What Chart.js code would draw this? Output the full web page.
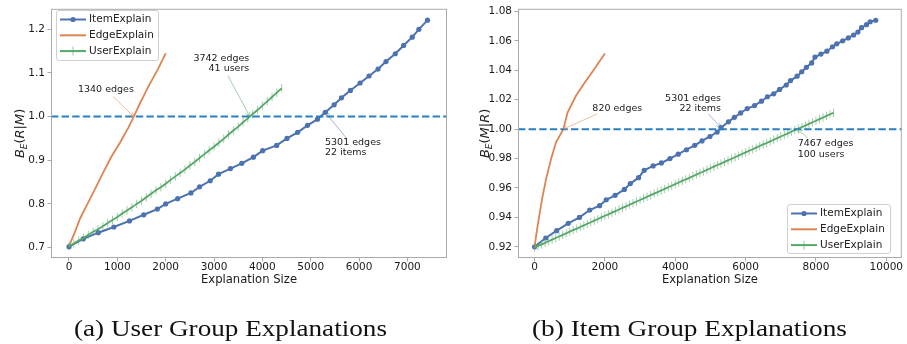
<!DOCTYPE html>
<html>
<head>
<meta charset="utf-8">
<script src="https://cdn.jsdelivr.net/npm/chart.js@4.4.1/dist/chart.umd.min.js"></script>
<style>
  body { margin: 0; background: #fff; width: 907px; height: 344px; overflow: hidden; position: relative; }
  canvas { position: absolute; top: 0; }
  #chartA { left: 0; }
  #chartB { left: 453px; }
  #captions { left: 0; }
</style>
</head>
<body>
<canvas id="chartA" width="453" height="292"></canvas>
<canvas id="chartB" width="454" height="292"></canvas>
<canvas id="captions" width="907" height="344" style="pointer-events:none"></canvas>
<script>
const BLUE = '#4c72b0', ORANGE = '#dd8452', GREEN = '#55a868', REF_COLOR = '#2a80c2';
const FONT = '"DejaVu Sans", sans-serif';
const seriesNames = ['ItemExplain', 'EdgeExplain', 'UserExplain'];
const refValue = 1.0;

// (a) user group explanations
const itemXA = [0,296,605,928,1251,1546,1828,2000,2247,2522,2701,2921,3093,3340,3574,3814,4007,4296,4509,4729,4935,5141,5301,5485,5636,5821,6021,6206,6392,6557,6749,6921,7100,7237,7416];
const itemYA = [0.702,0.720,0.734,0.747,0.761,0.775,0.788,0.800,0.812,0.825,0.839,0.853,0.868,0.881,0.893,0.907,0.922,0.934,0.950,0.964,0.980,0.994,1.010,1.027,1.043,1.060,1.077,1.093,1.109,1.126,1.144,1.163,1.182,1.200,1.221];
const edgeXA = [0,124,227,365,537,709,882,1054,1226,1340,1467,1639,1846,2000];
const edgeYA = [0.703,0.736,0.766,0.796,0.834,0.872,0.909,0.940,0.974,1.000,1.030,1.068,1.110,1.145];
const userXA = [0,100,200,300,400,500,600,700,800,900,1000,1100,1200,1300,1400,1500,1600,1700,1800,1900,2000,2100,2200,2300,2400,2500,2600,2700,2800,2900,3000,3100,3200,3300,3400,3500,3600,3700,3800,3900,4000,4100,4200,4300,4400];
const userYA = [0.703,0.709,0.716,0.722,0.729,0.736,0.742,0.749,0.756,0.763,0.770,0.778,0.785,0.792,0.800,0.807,0.815,0.823,0.831,0.838,0.846,0.855,0.863,0.871,0.879,0.888,0.896,0.905,0.914,0.923,0.931,0.940,0.949,0.959,0.968,0.977,0.987,0.996,1.006,1.015,1.025,1.035,1.045,1.055,1.065];
const xTicksA = [0,1000,2000,3000,4000,5000,6000,7000];
const yTicksA = [0.7,0.8,0.9,1.0,1.1,1.2];

// (b) item group explanations
const itemXB = [0,319,629,958,1277,1568,1850,2038,2291,2554,2723,2958,3117,3371,3606,3850,4085,4319,4554,4761,4986,5192,5301,5512,5681,5859,6047,6254,6451,6620,6798,6967,7155,7277,7465,7596,7728,7878,7972,8141,8310,8470,8592,8761,8920,9070,9192,9296,9437,9540,9700];
const itemYB = [0.920,0.926,0.931,0.936,0.940,0.945,0.948,0.952,0.955,0.959,0.963,0.967,0.972,0.975,0.977,0.980,0.983,0.986,0.989,0.992,0.995,0.998,1.001,1.005,1.008,1.011,1.014,1.016,1.019,1.022,1.024,1.027,1.030,1.033,1.036,1.039,1.042,1.045,1.049,1.051,1.053,1.056,1.058,1.060,1.062,1.064,1.066,1.069,1.071,1.073,1.074];
const edgeXB = [0,47,122,216,329,470,610,820,939,1174,1390,1690,2000];
const edgeYB = [0.9195,0.9279,0.9392,0.9527,0.9662,0.9797,0.9910,1.0000,1.0113,1.0225,1.0304,1.0406,1.0514];
const userXB = [0,100,200,300,400,500,600,700,800,900,1000,1100,1200,1300,1400,1500,1600,1700,1800,1900,2000,2100,2200,2300,2400,2500,2600,2700,2800,2900,3000,3100,3200,3300,3400,3500,3600,3700,3800,3900,4000,4100,4200,4300,4400,4500,4600,4700,4800,4900,5000,5100,5200,5300,5400,5500,5600,5700,5800,5900,6000,6100,6200,6300,6400,6500,6600,6700,6800,6900,7000,7100,7200,7300,7400,7500,7600,7700,7800,7900,8000,8100,8200,8300,8400,8500];
const userYB = [0.9195,0.9206,0.9217,0.9227,0.9238,0.9249,0.9260,0.9270,0.9281,0.9292,0.9303,0.9314,0.9324,0.9335,0.9346,0.9357,0.9367,0.9378,0.9389,0.9400,0.9411,0.9421,0.9432,0.9443,0.9454,0.9465,0.9475,0.9486,0.9497,0.9508,0.9518,0.9529,0.9540,0.9551,0.9562,0.9572,0.9583,0.9594,0.9605,0.9615,0.9626,0.9637,0.9648,0.9659,0.9669,0.9680,0.9691,0.9702,0.9712,0.9723,0.9734,0.9745,0.9756,0.9766,0.9777,0.9788,0.9799,0.9809,0.9820,0.9831,0.9842,0.9853,0.9863,0.9874,0.9885,0.9896,0.9906,0.9917,0.9928,0.9939,0.9950,0.9960,0.9971,0.9982,0.9993,1.0004,1.0014,1.0025,1.0036,1.0047,1.0057,1.0068,1.0079,1.0090,1.0101,1.0111];
const xTicksB = [0,2000,4000,6000,8000,10000];
const yTicksB = [0.92,0.94,0.96,0.98,1.00,1.02,1.04,1.06,1.08];

function zip(xs, ys) { return xs.map((x, i) => ({ x: x, y: ys[i] })); }

function arrow(ctx, x1, y1, x2, y2, color) {
  ctx.save();
  ctx.strokeStyle = color;
  ctx.globalAlpha = 0.6;
  ctx.lineWidth = 0.9;
  ctx.beginPath(); ctx.moveTo(x1, y1); ctx.lineTo(x2, y2); ctx.stroke();
  const a = Math.atan2(y2 - y1, x2 - x1), L = 5;
  ctx.beginPath();
  ctx.moveTo(x2 - L * Math.cos(a - 0.45), y2 - L * Math.sin(a - 0.45));
  ctx.lineTo(x2, y2);
  ctx.lineTo(x2 - L * Math.cos(a + 0.45), y2 - L * Math.sin(a + 0.45));
  ctx.stroke();
  ctx.restore();
}

const decorPlugin = {
  id: 'decor',
  afterDatasetsDraw(chart, args, opts) {
    const ctx = chart.ctx, a = chart.chartArea;
    const xs = chart.scales.x, ys = chart.scales.y;
    // reference line
    const yr = ys.getPixelForValue(refValue);
    ctx.save();
    ctx.strokeStyle = REF_COLOR; ctx.lineWidth = 2; ctx.setLineDash([7.4, 3.2]);
    ctx.beginPath(); ctx.moveTo(a.left, yr); ctx.lineTo(a.right, yr); ctx.stroke();
    ctx.restore();
    // annotations
    ctx.save();
    ctx.font = '9.5px ' + FONT; ctx.fillStyle = '#222'; ctx.textBaseline = 'middle';
    opts.notes.forEach(n => {
      arrow(ctx, xs.getPixelForValue(n.from[0]), ys.getPixelForValue(n.from[1]),
        xs.getPixelForValue(n.to[0]), ys.getPixelForValue(n.to[1]), n.color);
      ctx.textAlign = n.align;
      const tx = xs.getPixelForValue(n.at[0]), ty = ys.getPixelForValue(n.at[1]);
      const lh = 10.6;
      n.lines.forEach((t, i) => ctx.fillText(t, tx, ty - (n.lines.length - 1) * lh / 2 + i * lh));
    });
    ctx.restore();
  },
  afterDraw(chart, args, opts) {
    const ctx = chart.ctx, a = chart.chartArea;
    // frame
    ctx.save();
    ctx.strokeStyle = '#aaaaaa'; ctx.lineWidth = 1;
    ctx.strokeRect(a.left + 0.5, a.top + 0.5, a.width - 1, a.height - 1);
    ctx.restore();
    // legend
    const lg = opts.legend;
    ctx.save();
    ctx.globalAlpha = 0.85; ctx.fillStyle = '#fff';
    ctx.beginPath(); ctx.roundRect(lg.x + 0.5, lg.y + 0.5, lg.w, lg.h, 2.5); ctx.fill();
    ctx.globalAlpha = 1; ctx.strokeStyle = '#cfcfcf'; ctx.lineWidth = 1; ctx.stroke();
    const colors = [BLUE, ORANGE, GREEN];
    ctx.font = '10.5px ' + FONT; ctx.textBaseline = 'middle'; ctx.textAlign = 'left';
    seriesNames.forEach((name, i) => {
      const y = lg.y + 9.5 + i * 15.8, x0 = lg.x + 4, x1 = lg.x + 30;
      ctx.strokeStyle = colors[i]; ctx.lineWidth = 2;
      ctx.beginPath(); ctx.moveTo(x0, y); ctx.lineTo(x1, y); ctx.stroke();
      if (i === 0) {
        ctx.fillStyle = BLUE; ctx.beginPath(); ctx.arc((x0 + x1) / 2, y, 2.6, 0, Math.PI * 2); ctx.fill();
      }
      if (i === 2) {
        ctx.strokeStyle = 'rgba(85,168,104,0.6)'; ctx.lineWidth = 1;
        ctx.beginPath(); ctx.moveTo((x0 + x1) / 2, y - 4.5); ctx.lineTo((x0 + x1) / 2, y + 4.5); ctx.stroke();
      }
      ctx.fillStyle = '#222';
      ctx.fillText(name, lg.x + 33, y);
    });
    ctx.restore();
    // y axis title, math style
    const cy = (a.top + a.bottom) / 2, cx = a.left - opts.yTitleOffset;
    ctx.save();
    ctx.translate(cx, cy); ctx.rotate(-Math.PI / 2);
    ctx.fillStyle = '#222'; ctx.textBaseline = 'alphabetic'; ctx.textAlign = 'left';
    const parts = opts.yTitle.map(p => {
      const f = (p.it ? 'italic ' : '') + (p.sub ? '9px ' : '13px ') + FONT;
      ctx.font = f;
      return { t: p.t, f: f, sub: p.sub, w: ctx.measureText(p.t).width };
    });
    const total = parts.reduce((s, p) => s + p.w, 0);
    let px = -total / 2;
    parts.forEach(p => {
      ctx.font = p.f;
      ctx.fillText(p.t, px, p.sub ? 7.5 : 4.5);
      px += p.w;
    });
    ctx.restore();
  }
};

function makeChart(id, d) {
  return new Chart(document.getElementById(id), {
    type: 'line',
    data: {
      datasets: [
        { label: seriesNames[0], data: zip(d.itemX, d.itemY), borderColor: BLUE, backgroundColor: BLUE,
          borderWidth: 2, pointRadius: 2.6, pointBorderWidth: 0, pointBackgroundColor: BLUE, order: 3 },
        { label: seriesNames[1], data: zip(d.edgeX, d.edgeY), borderColor: ORANGE, borderWidth: 1.8,
          pointRadius: 0, order: 2 },
        { label: seriesNames[2], data: zip(d.userX, d.userY), borderColor: GREEN, borderWidth: 1.8,
          pointStyle: 'line', rotation: 90, pointRadius: 4.2, pointBorderWidth: 1,
          pointBorderColor: 'rgba(85,168,104,0.55)', order: 1 }
      ]
    },
    options: {
      responsive: false,
      animation: false,
      events: [],
      layout: { padding: d.padding },
      elements: { line: { tension: 0 } },
      plugins: {
        legend: { display: false },
        tooltip: { enabled: false },
        decor: { notes: d.notes, legend: d.legend, yTitle: d.yTitle, yTitleOffset: d.yTitleOffset }
      },
      scales: {
        x: {
          type: 'linear', min: d.xMin, max: d.xMax,
          afterBuildTicks: s => { s.ticks = d.xTicks.map(v => ({ value: v })); },
          afterFit: s => { s.height = 34; },
          ticks: { font: { family: FONT, size: 10.5, lineHeight: 1 }, color: '#1a1a1a', padding: 0.5,
                   maxRotation: 0, autoSkip: false, callback: v => String(v) },
          grid: { drawOnChartArea: false, tickLength: 3.5, color: '#aaaaaa' },
          border: { display: false },
          title: { display: true, text: 'Explanation Size', color: '#1a1a1a',
                   font: { family: FONT, size: 11.6 }, padding: { top: 0, bottom: 5 } }
        },
        y: {
          type: 'linear', min: d.yMin, max: d.yMax,
          afterBuildTicks: s => { s.ticks = d.yTicks.map(v => ({ value: v })); },
          afterFit: s => { s.width = d.yWidth; },
          ticks: { font: { family: FONT, size: 10.5 }, color: '#1a1a1a', padding: 2.5,
                   autoSkip: false, callback: v => v.toFixed(d.yDec) },
          grid: { drawOnChartArea: false, tickLength: 3.5, color: '#aaaaaa' },
          border: { display: false }
        }
      }
    },
    plugins: [decorPlugin]
  });
}

makeChart('chartA', {
  itemX: itemXA, itemY: itemYA, edgeX: edgeXA, edgeY: edgeYA, userX: userXA, userY: userYA,
  xTicks: xTicksA, yTicks: yTicksA, xMin: -372, xMax: 7819, yMin: 0.676, yMax: 1.247, yDec: 1,
  yWidth: 51, padding: { left: 0, right: 6, top: 5, bottom: 0 }, yTitleOffset: 32,
  yTitle: [{ t: 'B', it: true }, { t: 'E', it: true, sub: true }, { t: '(' }, { t: 'R', it: true }, { t: '|' }, { t: 'M', it: true }, { t: ')' }],
  legend: { x: 56, y: 10, w: 102, h: 50 },
  notes: [
    { lines: ['1340 edges'], at: [186, 1.061], align: 'left', from: [910, 1.046], to: [1340, 1.0], color: ORANGE },
    { lines: ['3742 edges', '41 users'], at: [3730, 1.122], align: 'right', from: [3289, 1.0935], to: [3742, 1.0], color: GREEN },
    { lines: ['5301 edges', '22 items'], at: [5296, 0.9292], align: 'left', from: [5744, 0.9498], to: [5301, 1.01], color: BLUE }
  ]
});

makeChart('chartB', {
  itemX: itemXB, itemY: itemYB, edgeX: edgeXB, edgeY: edgeYB, userX: userXB, userY: userYB,
  xTicks: xTicksB, yTicks: yTicksB, xMin: -470, xMax: 10440, yMin: 0.9124, yMax: 1.0818, yDec: 2,
  yWidth: 65, padding: { left: 0, right: 2, top: 7, bottom: 0 }, yTitleOffset: 34,
  yTitle: [{ t: 'B', it: true }, { t: 'E', it: true, sub: true }, { t: '(' }, { t: 'M', it: true }, { t: '|' }, { t: 'R', it: true }, { t: ')' }],
  legend: { x: 334, y: 204, w: 103, h: 49 },
  notes: [
    { lines: ['820 edges'], at: [1644, 1.0138], align: 'left', from: [1785, 1.0104], to: [820, 1.0], color: ORANGE },
    { lines: ['5301 edges', '22 items'], at: [5301, 1.0173], align: 'right', from: [4943, 1.0104], to: [5301, 1.001], color: BLUE },
    { lines: ['7467 edges', '100 users'], at: [7480, 0.9865], align: 'left', from: [7762, 0.9942], to: [7467, 1.0], color: GREEN }
  ]
});

// sub-figure captions (LaTeX style)
const cctx = document.getElementById('captions').getContext('2d');
cctx.fillStyle = '#111';
cctx.font = '23px "Liberation Serif", serif';
[['(a) User Group Explanations', 74, 313], ['(b) Item Group Explanations', 532, 315]].forEach(c => {
  const w = cctx.measureText(c[0]).width;
  cctx.save();
  cctx.translate(c[1], 336);
  cctx.scale(c[2] / w, 1);
  cctx.fillText(c[0], 0, 0);
  cctx.restore();
});
</script>
</body>
</html>
